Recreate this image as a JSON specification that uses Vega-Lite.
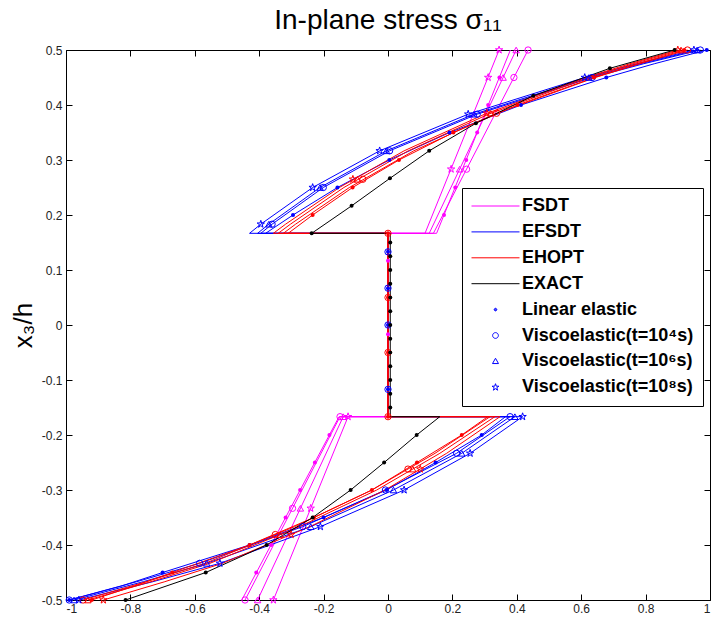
{
  "$schema": "https://vega.github.io/schema/vega-lite/v6.json",
  "width": 644,
  "height": 550,
  "autosize": {"type": "none"},
  "padding": {"left": 66, "top": 50, "right": 3, "bottom": 21},
  "background": "white",
  "title": {"text": "In-plane stress σ₁₁", "fontSize": 28, "fontWeight": "normal", "font": "Liberation Sans", "anchor": "middle", "offset": 9, "color": "#000000"},
  "config": {
    "font": "Liberation Sans",
    "view": {"stroke": null},
    "axis": {"grid": false, "domainColor": "#000000", "tickColor": "#000000", "labelColor": "#222222", "labelFontSize": 12, "labelFont": "Liberation Sans", "tickSize": -6, "domainWidth": 1, "tickWidth": 1}
  },
  "datasets": {
    "lines": [
      {"t":"FSDT","s":"el","i":1,"z":-0.5,"x":-0.454},{"t":"FSDT","s":"el","i":2,"z":-0.1667,"x":-0.152},{"t":"FSDT","s":"el","i":3,"z":-0.1667,"x":0},{"t":"FSDT","s":"el","i":4,"z":0.1667,"x":0},{"t":"FSDT","s":"el","i":5,"z":0.1667,"x":0.151},{"t":"FSDT","s":"el","i":6,"z":0.5,"x":0.38},
      {"t":"FSDT","s":"v4","i":1,"z":-0.5,"x":-0.444},{"t":"FSDT","s":"v4","i":2,"z":-0.1667,"x":-0.149},{"t":"FSDT","s":"v4","i":3,"z":-0.1667,"x":0},{"t":"FSDT","s":"v4","i":4,"z":0.1667,"x":0},{"t":"FSDT","s":"v4","i":5,"z":0.1667,"x":0.141},{"t":"FSDT","s":"v4","i":6,"z":0.5,"x":0.435},
      {"t":"FSDT","s":"v6","i":1,"z":-0.5,"x":-0.405},{"t":"FSDT","s":"v6","i":2,"z":-0.1667,"x":-0.139},{"t":"FSDT","s":"v6","i":3,"z":-0.1667,"x":0},{"t":"FSDT","s":"v6","i":4,"z":0.1667,"x":0},{"t":"FSDT","s":"v6","i":5,"z":0.1667,"x":0.128},{"t":"FSDT","s":"v6","i":6,"z":0.5,"x":0.398},
      {"t":"FSDT","s":"v8","i":1,"z":-0.5,"x":-0.356},{"t":"FSDT","s":"v8","i":2,"z":-0.1667,"x":-0.124},{"t":"FSDT","s":"v8","i":3,"z":-0.1667,"x":0},{"t":"FSDT","s":"v8","i":4,"z":0.1667,"x":0},{"t":"FSDT","s":"v8","i":5,"z":0.1667,"x":0.115},{"t":"FSDT","s":"v8","i":6,"z":0.5,"x":0.345},

      {"t":"EFSDT","s":"el","i":1,"z":-0.5,"x":-0.99},{"t":"EFSDT","s":"el","i":2,"z":-0.475,"x":-0.83},{"t":"EFSDT","s":"el","i":3,"z":-0.45,"x":-0.70},{"t":"EFSDT","s":"el","i":4,"z":-0.4,"x":-0.43},{"t":"EFSDT","s":"el","i":5,"z":-0.35,"x":-0.20},{"t":"EFSDT","s":"el","i":6,"z":-0.3,"x":-0.005},{"t":"EFSDT","s":"el","i":7,"z":-0.25,"x":0.148},{"t":"EFSDT","s":"el","i":8,"z":-0.2,"x":0.291},{"t":"EFSDT","s":"el","i":9,"z":-0.1667,"x":0.365},{"t":"EFSDT","s":"el","i":10,"z":-0.1667,"x":0},{"t":"EFSDT","s":"el","i":11,"z":0.1667,"x":0},{"t":"EFSDT","s":"el","i":12,"z":0.1667,"x":-0.38},{"t":"EFSDT","s":"el","i":13,"z":0.2,"x":-0.295},{"t":"EFSDT","s":"el","i":14,"z":0.25,"x":-0.157},{"t":"EFSDT","s":"el","i":15,"z":0.3,"x":0.004},{"t":"EFSDT","s":"el","i":16,"z":0.35,"x":0.191},{"t":"EFSDT","s":"el","i":17,"z":0.4,"x":0.413},{"t":"EFSDT","s":"el","i":18,"z":0.45,"x":0.678},{"t":"EFSDT","s":"el","i":19,"z":0.475,"x":0.827},{"t":"EFSDT","s":"el","i":20,"z":0.5,"x":0.99},
      {"t":"EFSDT","s":"v4","i":1,"z":-0.5,"x":-0.99},{"t":"EFSDT","s":"v4","i":2,"z":-0.4667,"x":-0.78},{"t":"EFSDT","s":"v4","i":3,"z":-0.4333,"x":-0.585},{"t":"EFSDT","s":"v4","i":4,"z":-0.3667,"x":-0.265},{"t":"EFSDT","s":"v4","i":5,"z":-0.3,"x":-0.008},{"t":"EFSDT","s":"v4","i":6,"z":-0.2333,"x":0.213},{"t":"EFSDT","s":"v4","i":7,"z":-0.1667,"x":0.379},{"t":"EFSDT","s":"v4","i":8,"z":-0.1667,"x":0},{"t":"EFSDT","s":"v4","i":9,"z":0.1667,"x":0},{"t":"EFSDT","s":"v4","i":10,"z":0.1667,"x":-0.395},{"t":"EFSDT","s":"v4","i":11,"z":0.1833,"x":-0.36},{"t":"EFSDT","s":"v4","i":12,"z":0.25,"x":-0.201},{"t":"EFSDT","s":"v4","i":13,"z":0.3167,"x":0.005},{"t":"EFSDT","s":"v4","i":14,"z":0.3833,"x":0.277},{"t":"EFSDT","s":"v4","i":15,"z":0.45,"x":0.634},{"t":"EFSDT","s":"v4","i":16,"z":0.475,"x":0.794},{"t":"EFSDT","s":"v4","i":17,"z":0.5,"x":0.97},
      {"t":"EFSDT","s":"v6","i":1,"z":-0.5,"x":-0.975},{"t":"EFSDT","s":"v6","i":2,"z":-0.4667,"x":-0.76},{"t":"EFSDT","s":"v6","i":3,"z":-0.4333,"x":-0.563},{"t":"EFSDT","s":"v6","i":4,"z":-0.3667,"x":-0.24},{"t":"EFSDT","s":"v6","i":5,"z":-0.3,"x":0.017},{"t":"EFSDT","s":"v6","i":6,"z":-0.2333,"x":0.229},{"t":"EFSDT","s":"v6","i":7,"z":-0.1667,"x":0.394},{"t":"EFSDT","s":"v6","i":8,"z":-0.1667,"x":0},{"t":"EFSDT","s":"v6","i":9,"z":0.1667,"x":0},{"t":"EFSDT","s":"v6","i":10,"z":0.1667,"x":-0.405},{"t":"EFSDT","s":"v6","i":11,"z":0.1833,"x":-0.37},{"t":"EFSDT","s":"v6","i":12,"z":0.25,"x":-0.211},{"t":"EFSDT","s":"v6","i":13,"z":0.3167,"x":-0.005},{"t":"EFSDT","s":"v6","i":14,"z":0.3833,"x":0.267},{"t":"EFSDT","s":"v6","i":15,"z":0.45,"x":0.624},{"t":"EFSDT","s":"v6","i":16,"z":0.475,"x":0.784},{"t":"EFSDT","s":"v6","i":17,"z":0.5,"x":0.96},
      {"t":"EFSDT","s":"v8","i":1,"z":-0.5,"x":-0.96},{"t":"EFSDT","s":"v8","i":2,"z":-0.4667,"x":-0.73},{"t":"EFSDT","s":"v8","i":3,"z":-0.4333,"x":-0.522},{"t":"EFSDT","s":"v8","i":4,"z":-0.3667,"x":-0.21},{"t":"EFSDT","s":"v8","i":5,"z":-0.3,"x":0.05},{"t":"EFSDT","s":"v8","i":6,"z":-0.2333,"x":0.255},{"t":"EFSDT","s":"v8","i":7,"z":-0.1667,"x":0.418},{"t":"EFSDT","s":"v8","i":8,"z":-0.1667,"x":0},{"t":"EFSDT","s":"v8","i":9,"z":0.1667,"x":0},{"t":"EFSDT","s":"v8","i":10,"z":0.1667,"x":-0.43},{"t":"EFSDT","s":"v8","i":11,"z":0.1833,"x":-0.395},{"t":"EFSDT","s":"v8","i":12,"z":0.25,"x":-0.234},{"t":"EFSDT","s":"v8","i":13,"z":0.3167,"x":-0.026},{"t":"EFSDT","s":"v8","i":14,"z":0.3833,"x":0.249},{"t":"EFSDT","s":"v8","i":15,"z":0.45,"x":0.611},{"t":"EFSDT","s":"v8","i":16,"z":0.475,"x":0.772},{"t":"EFSDT","s":"v8","i":17,"z":0.5,"x":0.95},

      {"t":"EHOPT","s":"el","i":1,"z":-0.5,"x":-0.92},{"t":"EHOPT","s":"el","i":2,"z":-0.475,"x":-0.79},{"t":"EHOPT","s":"el","i":3,"z":-0.45,"x":-0.67},{"t":"EHOPT","s":"el","i":4,"z":-0.4,"x":-0.43},{"t":"EHOPT","s":"el","i":5,"z":-0.35,"x":-0.23},{"t":"EHOPT","s":"el","i":6,"z":-0.3,"x":-0.05},{"t":"EHOPT","s":"el","i":7,"z":-0.25,"x":0.09},{"t":"EHOPT","s":"el","i":8,"z":-0.2,"x":0.229},{"t":"EHOPT","s":"el","i":9,"z":-0.1667,"x":0.31},{"t":"EHOPT","s":"el","i":10,"z":-0.1667,"x":0},{"t":"EHOPT","s":"el","i":11,"z":0.1667,"x":0},{"t":"EHOPT","s":"el","i":12,"z":0.1667,"x":-0.31},{"t":"EHOPT","s":"el","i":13,"z":0.2,"x":-0.234},{"t":"EHOPT","s":"el","i":14,"z":0.25,"x":-0.11},{"t":"EHOPT","s":"el","i":15,"z":0.3,"x":0.034},{"t":"EHOPT","s":"el","i":16,"z":0.35,"x":0.203},{"t":"EHOPT","s":"el","i":17,"z":0.4,"x":0.402},{"t":"EHOPT","s":"el","i":18,"z":0.45,"x":0.64},{"t":"EHOPT","s":"el","i":19,"z":0.475,"x":0.774},{"t":"EHOPT","s":"el","i":20,"z":0.5,"x":0.92},
      {"t":"EHOPT","s":"v4","i":1,"z":-0.5,"x":-0.947},{"t":"EHOPT","s":"v4","i":2,"z":-0.4667,"x":-0.751},{"t":"EHOPT","s":"v4","i":3,"z":-0.4333,"x":-0.568},{"t":"EHOPT","s":"v4","i":4,"z":-0.3667,"x":-0.29},{"t":"EHOPT","s":"v4","i":5,"z":-0.3,"x":-0.05},{"t":"EHOPT","s":"v4","i":6,"z":-0.2333,"x":0.146},{"t":"EHOPT","s":"v4","i":7,"z":-0.1667,"x":0.317},{"t":"EHOPT","s":"v4","i":8,"z":-0.1667,"x":0},{"t":"EHOPT","s":"v4","i":9,"z":0.1667,"x":0},{"t":"EHOPT","s":"v4","i":10,"z":0.1667,"x":-0.325},{"t":"EHOPT","s":"v4","i":11,"z":0.1833,"x":-0.287},{"t":"EHOPT","s":"v4","i":12,"z":0.25,"x":-0.12},{"t":"EHOPT","s":"v4","i":13,"z":0.3167,"x":0.08},{"t":"EHOPT","s":"v4","i":14,"z":0.3833,"x":0.33},{"t":"EHOPT","s":"v4","i":15,"z":0.45,"x":0.644},{"t":"EHOPT","s":"v4","i":16,"z":0.475,"x":0.781},{"t":"EHOPT","s":"v4","i":17,"z":0.5,"x":0.93},
      {"t":"EHOPT","s":"v6","i":1,"z":-0.5,"x":-0.932},{"t":"EHOPT","s":"v6","i":2,"z":-0.4667,"x":-0.736},{"t":"EHOPT","s":"v6","i":3,"z":-0.4333,"x":-0.553},{"t":"EHOPT","s":"v6","i":4,"z":-0.3667,"x":-0.275},{"t":"EHOPT","s":"v6","i":5,"z":-0.3,"x":-0.035},{"t":"EHOPT","s":"v6","i":6,"z":-0.2333,"x":0.161},{"t":"EHOPT","s":"v6","i":7,"z":-0.1667,"x":0.332},{"t":"EHOPT","s":"v6","i":8,"z":-0.1667,"x":0},{"t":"EHOPT","s":"v6","i":9,"z":0.1667,"x":0},{"t":"EHOPT","s":"v6","i":10,"z":0.1667,"x":-0.341},{"t":"EHOPT","s":"v6","i":11,"z":0.1833,"x":-0.303},{"t":"EHOPT","s":"v6","i":12,"z":0.25,"x":-0.137},{"t":"EHOPT","s":"v6","i":13,"z":0.3167,"x":0.063},{"t":"EHOPT","s":"v6","i":14,"z":0.3833,"x":0.312},{"t":"EHOPT","s":"v6","i":15,"z":0.45,"x":0.625},{"t":"EHOPT","s":"v6","i":16,"z":0.475,"x":0.761},{"t":"EHOPT","s":"v6","i":17,"z":0.5,"x":0.91},
      {"t":"EHOPT","s":"v8","i":1,"z":-0.5,"x":-0.884},{"t":"EHOPT","s":"v8","i":2,"z":-0.4667,"x":-0.693},{"t":"EHOPT","s":"v8","i":3,"z":-0.4333,"x":-0.514},{"t":"EHOPT","s":"v8","i":4,"z":-0.3667,"x":-0.243},{"t":"EHOPT","s":"v8","i":5,"z":-0.3,"x":-0.009},{"t":"EHOPT","s":"v8","i":6,"z":-0.2333,"x":0.182},{"t":"EHOPT","s":"v8","i":7,"z":-0.1667,"x":0.348},{"t":"EHOPT","s":"v8","i":8,"z":-0.1667,"x":0},{"t":"EHOPT","s":"v8","i":9,"z":0.1667,"x":0},{"t":"EHOPT","s":"v8","i":10,"z":0.1667,"x":-0.356},{"t":"EHOPT","s":"v8","i":11,"z":0.1833,"x":-0.318},{"t":"EHOPT","s":"v8","i":12,"z":0.25,"x":-0.151},{"t":"EHOPT","s":"v8","i":13,"z":0.3167,"x":0.05},{"t":"EHOPT","s":"v8","i":14,"z":0.3833,"x":0.3},{"t":"EHOPT","s":"v8","i":15,"z":0.45,"x":0.614},{"t":"EHOPT","s":"v8","i":16,"z":0.475,"x":0.751},{"t":"EHOPT","s":"v8","i":17,"z":0.5,"x":0.9},

      {"t":"EXACT","s":"el","i":1,"z":-0.5,"x":-0.815},{"t":"EXACT","s":"el","i":2,"z":-0.45,"x":-0.566},{"t":"EXACT","s":"el","i":3,"z":-0.4,"x":-0.377},{"t":"EXACT","s":"el","i":4,"z":-0.35,"x":-0.234},{"t":"EXACT","s":"el","i":5,"z":-0.3,"x":-0.116},{"t":"EXACT","s":"el","i":6,"z":-0.25,"x":-0.012},{"t":"EXACT","s":"el","i":7,"z":-0.2,"x":0.089},{"t":"EXACT","s":"el","i":8,"z":-0.1667,"x":0.161},{"t":"EXACT","s":"el","i":9,"z":-0.1667,"x":0.007},{"t":"EXACT","s":"el","i":10,"z":0.1667,"x":0.007},{"t":"EXACT","s":"el","i":11,"z":0.1667,"x":-0.237},{"t":"EXACT","s":"el","i":12,"z":0.2167,"x":-0.113},{"t":"EXACT","s":"el","i":13,"z":0.2667,"x":0.006},{"t":"EXACT","s":"el","i":14,"z":0.3167,"x":0.128},{"t":"EXACT","s":"el","i":15,"z":0.3667,"x":0.273},{"t":"EXACT","s":"el","i":16,"z":0.4167,"x":0.451},{"t":"EXACT","s":"el","i":17,"z":0.4667,"x":0.689},{"t":"EXACT","s":"el","i":18,"z":0.5,"x":0.89}
    ],
    "marks": [
      {"t":"FSDT","s":"el","z":-0.45,"x":-0.409},{"t":"FSDT","s":"el","z":-0.4,"x":-0.363},{"t":"FSDT","s":"el","z":-0.35,"x":-0.318},{"t":"FSDT","s":"el","z":-0.3,"x":-0.273},{"t":"FSDT","s":"el","z":-0.25,"x":-0.227},{"t":"FSDT","s":"el","z":-0.2,"x":-0.182},{"t":"FSDT","s":"el","z":0.2,"x":0.174},{"t":"FSDT","s":"el","z":0.25,"x":0.209},{"t":"FSDT","s":"el","z":0.3,"x":0.243},{"t":"FSDT","s":"el","z":0.35,"x":0.277},{"t":"FSDT","s":"el","z":0.4,"x":0.311},{"t":"FSDT","s":"el","z":0.45,"x":0.346},{"t":"FSDT","s":"el","z":0.117,"x":0},{"t":"FSDT","s":"el","z":-0.017,"x":0},
      {"t":"FSDT","s":"v4","z":-0.5,"x":-0.444},{"t":"FSDT","s":"v4","z":-0.3333,"x":-0.2965},{"t":"FSDT","s":"v4","z":-0.1667,"x":-0.149},{"t":"FSDT","s":"v4","z":0.2833,"x":0.244},{"t":"FSDT","s":"v4","z":0.45,"x":0.391},{"t":"FSDT","s":"v4","z":0.5,"x":0.435},
      {"t":"FSDT","s":"v6","z":-0.5,"x":-0.405},{"t":"FSDT","s":"v6","z":-0.3333,"x":-0.272},{"t":"FSDT","s":"v6","z":-0.1667,"x":-0.139},{"t":"FSDT","s":"v6","z":0.2833,"x":0.2225},{"t":"FSDT","s":"v6","z":0.45,"x":0.3575},{"t":"FSDT","s":"v6","z":0.5,"x":0.398},
      {"t":"FSDT","s":"v8","z":-0.5,"x":-0.356},{"t":"FSDT","s":"v8","z":-0.3333,"x":-0.24},{"t":"FSDT","s":"v8","z":-0.1667,"x":-0.124},{"t":"FSDT","s":"v8","z":0.2833,"x":0.196},{"t":"FSDT","s":"v8","z":0.45,"x":0.311},{"t":"FSDT","s":"v8","z":0.5,"x":0.345},

      {"t":"EFSDT","s":"el","z":-0.5,"x":-0.99},{"t":"EFSDT","s":"el","z":-0.45,"x":-0.7},{"t":"EFSDT","s":"el","z":-0.4,"x":-0.43},{"t":"EFSDT","s":"el","z":-0.35,"x":-0.2},{"t":"EFSDT","s":"el","z":-0.3,"x":-0.005},{"t":"EFSDT","s":"el","z":-0.25,"x":0.148},{"t":"EFSDT","s":"el","z":-0.2,"x":0.291},{"t":"EFSDT","s":"el","z":0.2,"x":-0.295},{"t":"EFSDT","s":"el","z":0.25,"x":-0.157},{"t":"EFSDT","s":"el","z":0.3,"x":0.004},{"t":"EFSDT","s":"el","z":0.35,"x":0.191},{"t":"EFSDT","s":"el","z":0.4,"x":0.413},{"t":"EFSDT","s":"el","z":0.45,"x":0.678},{"t":"EFSDT","s":"el","z":0.5,"x":0.99},{"t":"EFSDT","s":"el","z":0.133,"x":0},{"t":"EFSDT","s":"el","z":0.067,"x":0},{"t":"EFSDT","s":"el","z":0.0,"x":0},{"t":"EFSDT","s":"el","z":-0.117,"x":0},
      {"t":"EFSDT","s":"v4","z":-0.5,"x":-0.99},{"t":"EFSDT","s":"v4","z":-0.4333,"x":-0.585},{"t":"EFSDT","s":"v4","z":-0.3667,"x":-0.265},{"t":"EFSDT","s":"v4","z":-0.3,"x":-0.008},{"t":"EFSDT","s":"v4","z":-0.2333,"x":0.213},{"t":"EFSDT","s":"v4","z":-0.1667,"x":0.379},{"t":"EFSDT","s":"v4","z":0.1833,"x":-0.36},{"t":"EFSDT","s":"v4","z":0.25,"x":-0.201},{"t":"EFSDT","s":"v4","z":0.3167,"x":0.005},{"t":"EFSDT","s":"v4","z":0.3833,"x":0.277},{"t":"EFSDT","s":"v4","z":0.45,"x":0.634},{"t":"EFSDT","s":"v4","z":0.5,"x":0.97},{"t":"EFSDT","s":"v4","z":0.133,"x":0},{"t":"EFSDT","s":"v4","z":0.067,"x":0},{"t":"EFSDT","s":"v4","z":0.0,"x":0},{"t":"EFSDT","s":"v4","z":-0.117,"x":0},
      {"t":"EFSDT","s":"v6","z":-0.5,"x":-0.975},{"t":"EFSDT","s":"v6","z":-0.4333,"x":-0.563},{"t":"EFSDT","s":"v6","z":-0.3667,"x":-0.24},{"t":"EFSDT","s":"v6","z":-0.3,"x":0.017},{"t":"EFSDT","s":"v6","z":-0.2333,"x":0.229},{"t":"EFSDT","s":"v6","z":-0.1667,"x":0.394},{"t":"EFSDT","s":"v6","z":0.1833,"x":-0.37},{"t":"EFSDT","s":"v6","z":0.25,"x":-0.211},{"t":"EFSDT","s":"v6","z":0.3167,"x":-0.005},{"t":"EFSDT","s":"v6","z":0.3833,"x":0.267},{"t":"EFSDT","s":"v6","z":0.45,"x":0.624},{"t":"EFSDT","s":"v6","z":0.5,"x":0.96},
      {"t":"EFSDT","s":"v8","z":-0.5,"x":-0.96},{"t":"EFSDT","s":"v8","z":-0.4333,"x":-0.522},{"t":"EFSDT","s":"v8","z":-0.3667,"x":-0.21},{"t":"EFSDT","s":"v8","z":-0.3,"x":0.05},{"t":"EFSDT","s":"v8","z":-0.2333,"x":0.255},{"t":"EFSDT","s":"v8","z":-0.1667,"x":0.418},{"t":"EFSDT","s":"v8","z":0.1833,"x":-0.395},{"t":"EFSDT","s":"v8","z":0.25,"x":-0.234},{"t":"EFSDT","s":"v8","z":0.3167,"x":-0.026},{"t":"EFSDT","s":"v8","z":0.3833,"x":0.249},{"t":"EFSDT","s":"v8","z":0.45,"x":0.611},{"t":"EFSDT","s":"v8","z":0.5,"x":0.95},

      {"t":"EHOPT","s":"el","z":-0.5,"x":-0.92},{"t":"EHOPT","s":"el","z":-0.45,"x":-0.67},{"t":"EHOPT","s":"el","z":-0.4,"x":-0.43},{"t":"EHOPT","s":"el","z":-0.35,"x":-0.23},{"t":"EHOPT","s":"el","z":-0.3,"x":-0.05},{"t":"EHOPT","s":"el","z":-0.25,"x":0.09},{"t":"EHOPT","s":"el","z":-0.2,"x":0.229},{"t":"EHOPT","s":"el","z":0.2,"x":-0.234},{"t":"EHOPT","s":"el","z":0.25,"x":-0.11},{"t":"EHOPT","s":"el","z":0.3,"x":0.034},{"t":"EHOPT","s":"el","z":0.35,"x":0.203},{"t":"EHOPT","s":"el","z":0.4,"x":0.402},{"t":"EHOPT","s":"el","z":0.45,"x":0.64},{"t":"EHOPT","s":"el","z":0.5,"x":0.92},{"t":"EHOPT","s":"el","z":0.1667,"x":0},{"t":"EHOPT","s":"el","z":0.05,"x":0},{"t":"EHOPT","s":"el","z":-0.05,"x":0},{"t":"EHOPT","s":"el","z":-0.1667,"x":0},
      {"t":"EHOPT","s":"v4","z":-0.5,"x":-0.947},{"t":"EHOPT","s":"v4","z":-0.381,"x":-0.35},{"t":"EHOPT","s":"v4","z":-0.262,"x":0.062},{"t":"EHOPT","s":"v4","z":0.265,"x":-0.078},{"t":"EHOPT","s":"v4","z":0.385,"x":0.337},{"t":"EHOPT","s":"v4","z":0.5,"x":0.93},{"t":"EHOPT","s":"v4","z":0.1667,"x":0},{"t":"EHOPT","s":"v4","z":0.05,"x":0},{"t":"EHOPT","s":"v4","z":-0.05,"x":0},{"t":"EHOPT","s":"v4","z":-0.1667,"x":0},
      {"t":"EHOPT","s":"v6","z":-0.5,"x":-0.932},{"t":"EHOPT","s":"v6","z":-0.381,"x":-0.335},{"t":"EHOPT","s":"v6","z":-0.262,"x":0.077},{"t":"EHOPT","s":"v6","z":0.265,"x":-0.095},{"t":"EHOPT","s":"v6","z":0.385,"x":0.319},{"t":"EHOPT","s":"v6","z":0.5,"x":0.91},
      {"t":"EHOPT","s":"v8","z":-0.5,"x":-0.884},{"t":"EHOPT","s":"v8","z":-0.381,"x":-0.301},{"t":"EHOPT","s":"v8","z":-0.262,"x":0.1},{"t":"EHOPT","s":"v8","z":0.265,"x":-0.109},{"t":"EHOPT","s":"v8","z":0.385,"x":0.307},{"t":"EHOPT","s":"v8","z":0.5,"x":0.9},

      {"t":"EXACT","s":"el","z":-0.5,"x":-0.815},{"t":"EXACT","s":"el","z":-0.45,"x":-0.566},{"t":"EXACT","s":"el","z":-0.4,"x":-0.377},{"t":"EXACT","s":"el","z":-0.35,"x":-0.234},{"t":"EXACT","s":"el","z":-0.3,"x":-0.116},{"t":"EXACT","s":"el","z":-0.25,"x":-0.012},{"t":"EXACT","s":"el","z":-0.2,"x":0.089},
      {"t":"EXACT","s":"el","z":0.15,"x":0.007},{"t":"EXACT","s":"el","z":0.125,"x":0.007},{"t":"EXACT","s":"el","z":0.1,"x":0.007},{"t":"EXACT","s":"el","z":0.075,"x":0.007},{"t":"EXACT","s":"el","z":0.05,"x":0.007},{"t":"EXACT","s":"el","z":0.025,"x":0.007},{"t":"EXACT","s":"el","z":0.0,"x":0.007},{"t":"EXACT","s":"el","z":-0.025,"x":0.007},{"t":"EXACT","s":"el","z":-0.05,"x":0.007},{"t":"EXACT","s":"el","z":-0.075,"x":0.007},{"t":"EXACT","s":"el","z":-0.1,"x":0.007},{"t":"EXACT","s":"el","z":-0.125,"x":0.007},{"t":"EXACT","s":"el","z":-0.15,"x":0.007},
      {"t":"EXACT","s":"el","z":0.1667,"x":-0.237},{"t":"EXACT","s":"el","z":0.2167,"x":-0.113},{"t":"EXACT","s":"el","z":0.2667,"x":0.006},{"t":"EXACT","s":"el","z":0.3167,"x":0.128},{"t":"EXACT","s":"el","z":0.3667,"x":0.273},{"t":"EXACT","s":"el","z":0.4167,"x":0.451},{"t":"EXACT","s":"el","z":0.4667,"x":0.689},{"t":"EXACT","s":"el","z":0.5,"x":0.89}
    ],
    "legend": [
      {"leg":"FSDT"},{"leg":"EFSDT"},{"leg":"EHOPT"},{"leg":"EXACT"},{"leg":"Linear elastic"},{"leg":"Viscoelastic(t=10⁴s)"},{"leg":"Viscoelastic(t=10⁶s)"},{"leg":"Viscoelastic(t=10⁸s)"}
    ]
  },
  "resolve": {"axis": {"x": "independent", "y": "independent"}},
  "layer": [
    {
      "data": {"name": "lines"},
      "mark": {"type": "line", "strokeWidth": 1, "interpolate": "linear"},
      "encoding": {
        "x": {"field": "x", "type": "quantitative", "scale": {"domain": [-1, 1], "nice": false, "zero": false},
              "axis": {"orient": "bottom", "title": null, "values": [-1, -0.8, -0.6, -0.4, -0.2, 0, 0.2, 0.4, 0.6, 0.8, 1], "labelExpr": "toString(datum.value)", "labelPadding": 9}},
        "y": {"field": "z", "type": "quantitative", "scale": {"domain": [-0.5, 0.5], "nice": false, "zero": false},
              "axis": {"orient": "left", "title": "x₃/h", "titleFontSize": 26, "titleFontWeight": "normal", "titleColor": "#000000", "titleFont": "Liberation Sans", "titlePadding": 5, "values": [-0.5, -0.4, -0.3, -0.2, -0.1, 0, 0.1, 0.2, 0.3, 0.4, 0.5], "labelExpr": "toString(datum.value)", "labelPadding": 10}},
        "color": {"field": "t", "type": "nominal", "scale": {"domain": ["FSDT", "EFSDT", "EHOPT", "EXACT"], "range": ["#ff00ff", "#0000ff", "#ff0000", "#000000"]}, "legend": null},
        "detail": {"field": "s"},
        "order": {"field": "i", "type": "quantitative"}
      }
    },
    {
      "data": {"name": "marks"},
      "transform": [{"filter": "datum.s === 'v4'"}],
      "mark": {"type": "point", "shape": "circle", "filled": false, "size": 40, "strokeWidth": 1, "opacity": 1},
      "encoding": {
        "x": {"field": "x", "type": "quantitative", "axis": null},
        "y": {"field": "z", "type": "quantitative", "axis": null},
        "color": {"field": "t", "type": "nominal", "legend": null}
      }
    },
    {
      "data": {"name": "marks"},
      "transform": [{"filter": "datum.s === 'v6'"}],
      "mark": {"type": "point", "shape": "triangle-up", "filled": false, "size": 42, "strokeWidth": 1, "opacity": 1},
      "encoding": {
        "x": {"field": "x", "type": "quantitative", "axis": null},
        "y": {"field": "z", "type": "quantitative", "axis": null},
        "color": {"field": "t", "type": "nominal", "legend": null}
      }
    },
    {
      "data": {"name": "marks"},
      "transform": [{"filter": "datum.s === 'v8'"}],
      "mark": {"type": "point", "shape": "M0,-1L0.225,-0.309L0.951,-0.309L0.363,0.118L0.588,0.809L0,0.382L-0.588,0.809L-0.363,0.118L-0.951,-0.309L-0.225,-0.309Z", "filled": false, "size": 60, "strokeWidth": 1, "opacity": 1},
      "encoding": {
        "x": {"field": "x", "type": "quantitative", "axis": null},
        "y": {"field": "z", "type": "quantitative", "axis": null},
        "color": {"field": "t", "type": "nominal", "legend": null}
      }
    },
    {
      "data": {"name": "marks"},
      "transform": [{"filter": "datum.s === 'el'"}],
      "mark": {"type": "point", "shape": "circle", "filled": true, "size": 16, "opacity": 1},
      "encoding": {
        "x": {"field": "x", "type": "quantitative", "axis": {"orient": "top", "labels": false, "title": null, "values": [-1, -0.8, -0.6, -0.4, -0.2, 0, 0.2, 0.4, 0.6, 0.8, 1]}},
        "y": {"field": "z", "type": "quantitative", "axis": {"orient": "right", "labels": false, "title": null, "values": [-0.5, -0.4, -0.3, -0.2, -0.1, 0, 0.1, 0.2, 0.3, 0.4, 0.5]}},
        "color": {"field": "t", "type": "nominal", "legend": null}
      }
    },
    {
      "data": {"name": "legend"},
      "mark": {"type": "point", "opacity": 0, "filled": false, "strokeWidth": 1},
      "encoding": {
        "stroke": {
          "field": "leg", "type": "nominal",
          "scale": {
            "domain": ["FSDT", "EFSDT", "EHOPT", "EXACT", "Linear elastic", "Viscoelastic(t=10⁴s)", "Viscoelastic(t=10⁶s)", "Viscoelastic(t=10⁸s)"],
            "range": ["#ff00ff", "#0000ff", "#ff0000", "#000000", "#0000ff", "#0000ff", "#0000ff", "#0000ff"]
          },
          "legend": {
            "title": null, "orient": "none", "legendX": 396, "legendY": 138,
            "strokeColor": "#000000", "fillColor": "#ffffff", "padding": 9,
            "labelFont": "Liberation Sans", "labelFontSize": 18, "labelFontWeight": "bold", "labelColor": "#000000", "labelLimit": 400, "labelOffset": 2,
            "rowPadding": 7.9, "clipHeight": 18, "symbolSize": 2304, "symbolStrokeWidth": 1, "symbolOpacity": 1
          }
        },
        "shape": {
          "field": "leg", "type": "nominal",
          "scale": {
            "domain": ["FSDT", "EFSDT", "EHOPT", "EXACT", "Linear elastic", "Viscoelastic(t=10⁴s)", "Viscoelastic(t=10⁶s)", "Viscoelastic(t=10⁸s)"],
            "range": ["stroke", "stroke", "stroke", "stroke",
              "M-0.055,0A0.055,0.055 0 1,0 0.055,0A0.055,0.055 0 1,0 -0.055,0ZM-0.03,0A0.03,0.03 0 1,0 0.03,0A0.03,0.03 0 1,0 -0.03,0Z",
              "M-0.12,0A0.12,0.12 0 1,0 0.12,0A0.12,0.12 0 1,0 -0.12,0Z",
              "M0,-0.13L0.125,0.09L-0.125,0.09Z",
              "M0,-0.15L0.034,-0.046L0.143,-0.046L0.054,0.018L0.088,0.121L0,0.057L-0.088,0.121L-0.054,0.018L-0.143,-0.046L-0.034,-0.046Z"]
          },
          "legend": {
            "title": null, "orient": "none", "legendX": 396, "legendY": 138,
            "strokeColor": "#000000", "fillColor": "#ffffff", "padding": 9,
            "labelFont": "Liberation Sans", "labelFontSize": 18, "labelFontWeight": "bold", "labelColor": "#000000", "labelLimit": 400, "labelOffset": 2,
            "rowPadding": 7.9, "clipHeight": 18, "symbolSize": 2304, "symbolStrokeWidth": 1, "symbolOpacity": 1
          }
        }
      }
    }
  ]
}
